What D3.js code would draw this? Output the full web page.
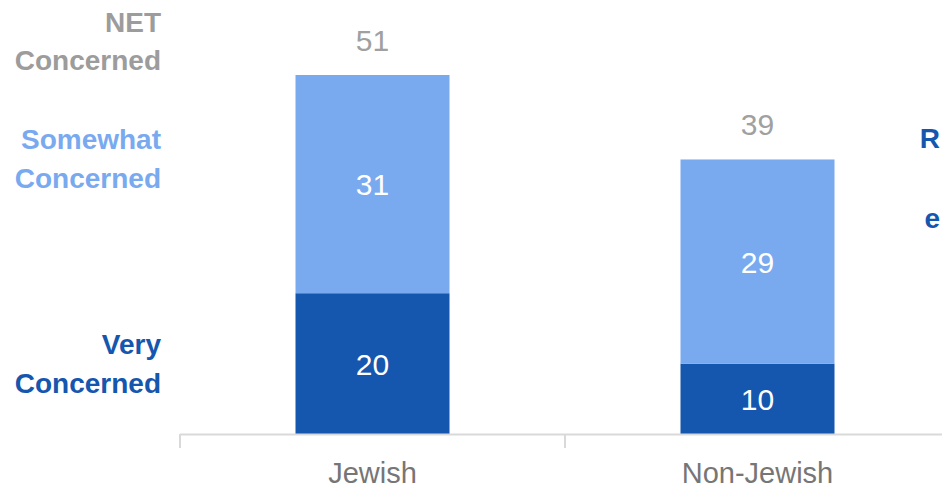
<!DOCTYPE html>
<html>
<head>
<meta charset="utf-8">
<script src="https://cdn.jsdelivr.net/npm/d3@7"></script>
<style>
  html, body { margin: 0; padding: 0; background: #fff; }
  svg { display: block; font-family: "Liberation Sans", Arial, sans-serif; }
</style>
</head>
<body>
<svg id="chart" width="942" height="488"></svg>
<script>
// ---- data ----
const categories = ["Jewish", "Non-Jewish", ""];
const veryConcerned = [20, 10];
const somewhatConcerned = [31, 29];
const netConcerned = [51, 39];
const seriesLabels = [
  { lines: ["NET", "Concerned"], key: "net" },
  { lines: ["Somewhat", "Concerned"], key: "somewhat" },
  { lines: ["Very", "Concerned"], key: "very" }
];
const rightLabels = ["R", "e"];

// ---- layout ----
const colors = { very: "#1556ae", somewhat: "#79aaf0", net: "#9c9c9c" };
const svg = d3.select("#chart");
const baseY = 434;

const x = d3.scaleBand().domain(categories).range([180, 180 + 385 * categories.length])
  .paddingInner(0).paddingOuter(0);
const barW = 154;
const y = d3.scaleLinear().domain([0, 51]).range([baseY, 75]);

const rows = categories.slice(0, 2).map((c, i) => ({
  cat: c, very: veryConcerned[i], somewhat: somewhatConcerned[i], net: netConcerned[i]
}));

const cx = d => x(d.cat) + x.bandwidth() / 2;

// dark segment
svg.selectAll("rect.very").data(rows).join("rect")
  .attr("x", d => cx(d) - barW / 2).attr("width", barW)
  .attr("y", d => y(d.very)).attr("height", d => y(0) - y(d.very))
  .attr("fill", colors.very);
// light segment
svg.selectAll("rect.some").data(rows).join("rect")
  .attr("x", d => cx(d) - barW / 2).attr("width", barW)
  .attr("y", d => y(d.very + d.somewhat)).attr("height", d => y(d.very) - y(d.very + d.somewhat))
  .attr("fill", colors.somewhat);

// inner labels
svg.selectAll("text.vl").data(rows).join("text")
  .attr("x", cx).attr("y", d => (y(0) + y(d.very)) / 2 + 11)
  .attr("text-anchor", "middle").attr("fill", "#fff").attr("font-size", 30)
  .text(d => d.very);
svg.selectAll("text.sl").data(rows).join("text")
  .attr("x", cx).attr("y", d => (y(d.very) + y(d.very + d.somewhat)) / 2 + 11)
  .attr("text-anchor", "middle").attr("fill", "#fff").attr("font-size", 30)
  .text(d => d.somewhat);
// net labels
svg.selectAll("text.nl").data(rows).join("text")
  .attr("x", cx).attr("y", d => y(d.net) - 24)
  .attr("text-anchor", "middle").attr("fill", "#a0a0a0").attr("font-size", 30)
  .text(d => d.net);

// axis
const axisG = svg.append("g").attr("transform", `translate(0,${baseY})`);
axisG.append("line").attr("x1", 180).attr("x2", 942).attr("y1", 0.5).attr("y2", 0.5)
  .attr("stroke", "#d9d9d9").attr("stroke-width", 2);
axisG.selectAll("line.tick").data(categories).join("line")
  .attr("x1", d => x(d)).attr("x2", d => x(d))
  .attr("y1", 0).attr("y2", 14)
  .attr("stroke", "#d9d9d9").attr("stroke-width", 2);
axisG.selectAll("text.cat").data(categories.filter(c => c)).join("text")
  .attr("x", d => x(d) + x.bandwidth() / 2).attr("y", 49)
  .attr("text-anchor", "middle").attr("fill", "#767676").attr("font-size", 29)
  .text(d => d);

// left series labels
const labelY = { net: [32, 70], somewhat: [149, 188], very: [354, 393] };
seriesLabels.forEach(s => {
  s.lines.forEach((ln, j) => {
    svg.append("text").attr("x", 161).attr("y", labelY[s.key][j])
      .attr("text-anchor", "end").attr("font-weight", "bold").attr("font-size", 28)
      .attr("fill", colors[s.key]).text(ln);
  });
});

// right-edge labels (kept fully inside the frame)
const rightY = [148, 228];
rightLabels.forEach((t, i) => {
  svg.append("text").attr("x", 940).attr("y", rightY[i]).attr("text-anchor", "end")
    .attr("font-weight", "bold").attr("font-size", 28).attr("fill", colors.very).text(t);
});
</script>
</body>
</html>
